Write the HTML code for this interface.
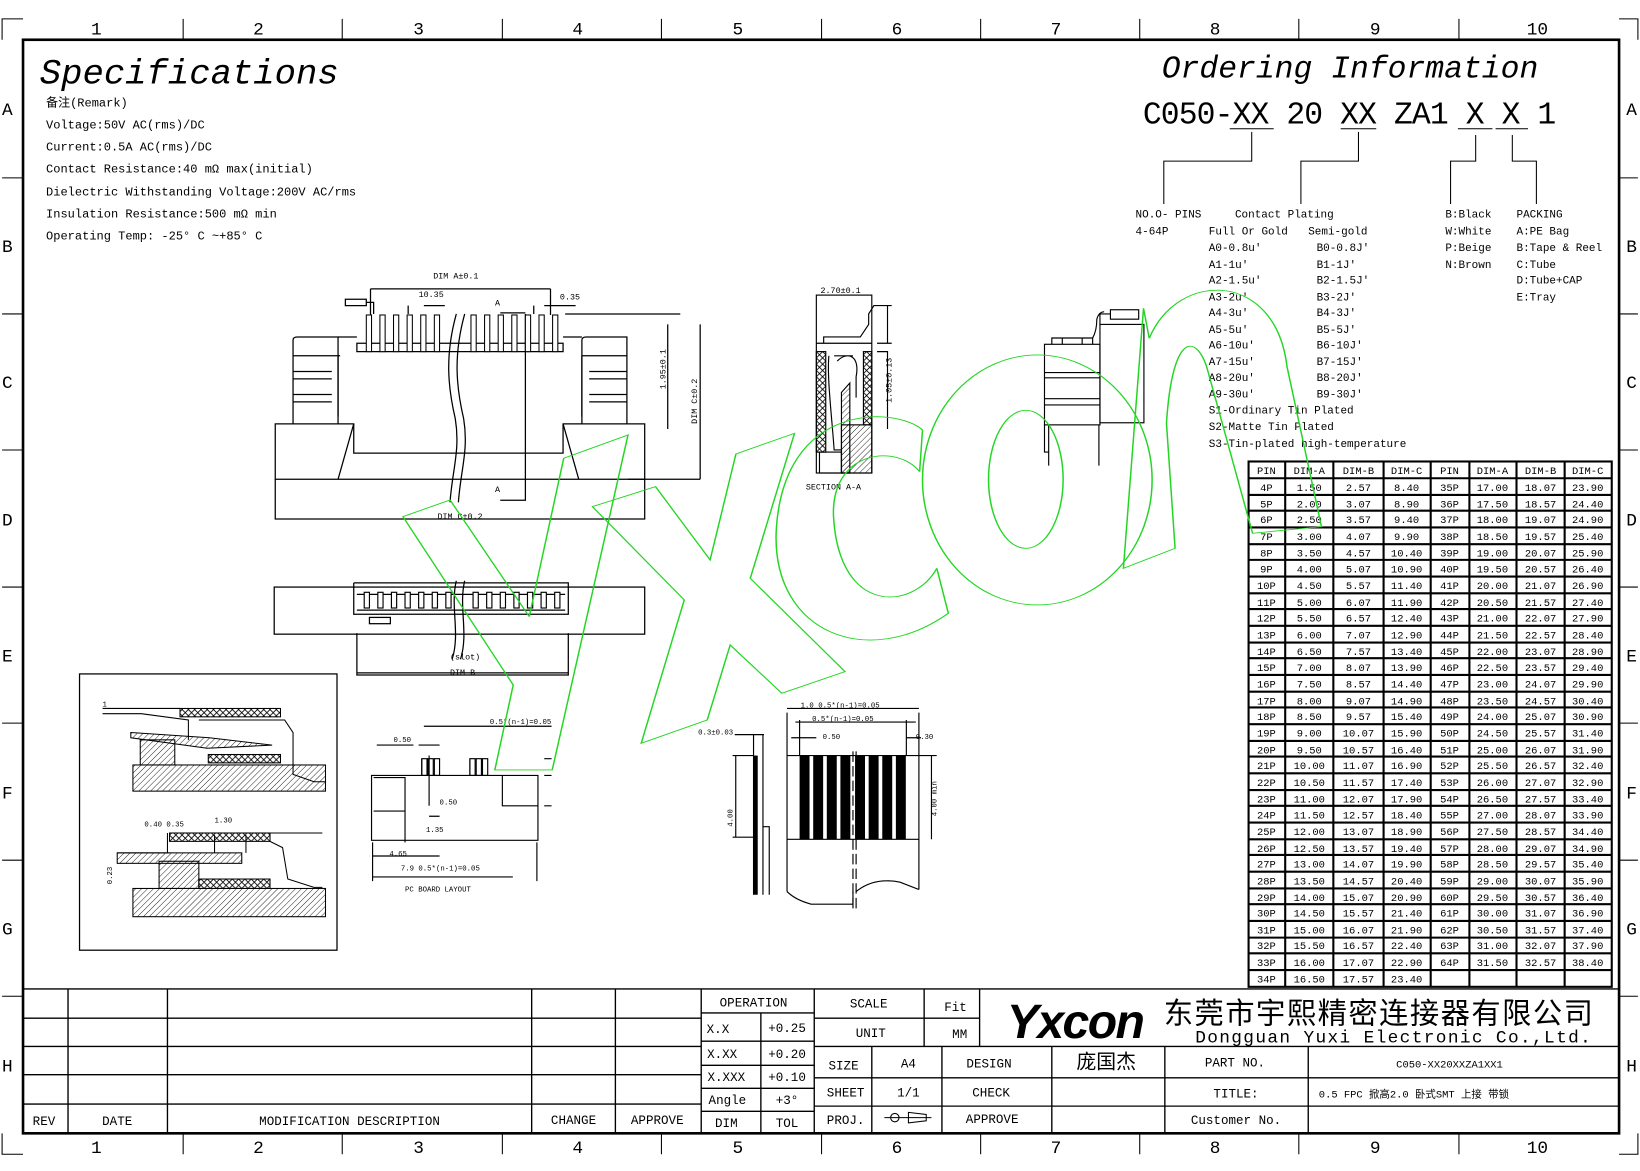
<!DOCTYPE html>
<html><head><meta charset="utf-8"><style>
html,body{margin:0;padding:0;background:#fff}
svg{display:block}
text{font-family:"Liberation Mono","Noto Sans CJK SC",monospace;fill:#000}
.s{font-family:"Liberation Sans","Noto Sans CJK SC",sans-serif}
.t text{font-size:10px;text-anchor:middle}
</style></head><body>
<svg width="1640" height="1171" viewBox="0 0 1567 1119" preserveAspectRatio="none" xmlns="http://www.w3.org/2000/svg">
<defs>
<pattern id="h" width="4" height="4" patternUnits="userSpaceOnUse" patternTransform="rotate(45)"><path d="M0,0V4" stroke="#000" stroke-width="0.8"/></pattern>
<pattern id="x" width="6" height="6" patternUnits="userSpaceOnUse"><path d="M0,0L6,6M6,0L0,6" stroke="#000" stroke-width="0.8"/></pattern>
</defs>
<rect width="1567" height="1119" fill="#fff"/>
<!-- frame -->
<g stroke="#000" fill="none">
<rect x="22" y="38" width="1525" height="1045" stroke-width="2.5"/>
<path d="M2,38V18H22M1565,38V18H1547M2,1083V1103H22M1565,1083V1103H1547" stroke-width="1"/>
<path d="M175,18V38M327,18V38M480,18V38M632,18V38M785,18V38M937,18V38M1089,18V38M1241,18V38M1394,18V38M175,1083V1103M327,1083V1103M480,1083V1103M632,1083V1103M785,1083V1103M937,1083V1103M1089,1083V1103M1241,1083V1103M1394,1083V1103"/>
<path d="M2,170H22M2,300H22M2,430H22M2,561H22M2,691H22M2,822H22M2,952H22M1547,170H1565M1547,300H1565M1547,430H1565M1547,561H1565M1547,691H1565M1547,822H1565M1547,952H1565"/>
</g>
<g class="s" font-size="17" text-anchor="middle">
<text x="92" y="33">1</text><text x="247" y="33">2</text><text x="400" y="33">3</text><text x="552" y="33">4</text><text x="705" y="33">5</text><text x="857" y="33">6</text><text x="1009" y="33">7</text><text x="1161" y="33">8</text><text x="1314" y="33">9</text><text x="1469" y="33">10</text>
<text x="92" y="1102">1</text><text x="247" y="1102">2</text><text x="400" y="1102">3</text><text x="552" y="1102">4</text><text x="705" y="1102">5</text><text x="857" y="1102">6</text><text x="1009" y="1102">7</text><text x="1161" y="1102">8</text><text x="1314" y="1102">9</text><text x="1469" y="1102">10</text>
<text x="7" y="110">A</text><text x="7" y="241">B</text><text x="7" y="371">C</text><text x="7" y="502">D</text><text x="7" y="632">E</text><text x="7" y="763">F</text><text x="7" y="893">G</text><text x="7" y="1024">H</text>
<text x="1559" y="110">A</text><text x="1559" y="241">B</text><text x="1559" y="371">C</text><text x="1559" y="502">D</text><text x="1559" y="632">E</text><text x="1559" y="763">F</text><text x="1559" y="893">G</text><text x="1559" y="1024">H</text>
</g>

<!-- Specifications -->
<text x="38" y="80" font-size="34" font-style="italic">Specifications</text>
<g font-size="11.5">
<text x="44" y="102">备注(Remark)</text>
<text x="44" y="123">Voltage:50V AC(rms)/DC</text>
<text x="44" y="144">Current:0.5A AC(rms)/DC</text>
<text x="44" y="165">Contact Resistance:40 mΩ max(initial)</text>
<text x="44" y="187">Dielectric Withstanding Voltage:200V AC/rms</text>
<text x="44" y="208">Insulation Resistance:500 mΩ min</text>
<text x="44" y="229">Operating Temp: -25° C ~+85° C</text>
</g>

<!-- Ordering information -->
<text x="1110" y="74" font-size="30" font-style="italic">Ordering Information</text>
<text x="1092" y="118" font-size="30" textLength="395">C050-XX 20 XX ZA1 X X 1</text>
<g stroke="#000" fill="none" stroke-width="1">
<path d="M1175,123H1217M1281,123H1315M1393,123H1426M1429,123H1460"/>
<path d="M1196,126V154H1112V195M1298,126V154H1243V195M1410,129V154H1386V195M1445,129V154H1468V195"/>
</g>
<g font-size="10.5">
<text x="1085" y="208">NO.O- PINS</text><text x="1085" y="224">4-64P</text>
<text x="1180" y="208">Contact Plating</text>
<text x="1155" y="224">Full Or Gold</text><text x="1250" y="224">Semi-gold</text>
<text x="1155" y="240">A0-0.8u'</text><text x="1258" y="240">B0-0.8J'</text>
<text x="1155" y="256">A1-1u'</text><text x="1258" y="256">B1-1J'</text>
<text x="1155" y="271">A2-1.5u'</text><text x="1258" y="271">B2-1.5J'</text>
<text x="1155" y="287">A3-2u'</text><text x="1258" y="287">B3-2J'</text>
<text x="1155" y="302">A4-3u'</text><text x="1258" y="302">B4-3J'</text>
<text x="1155" y="318">A5-5u'</text><text x="1258" y="318">B5-5J'</text>
<text x="1155" y="333">A6-10u'</text><text x="1258" y="333">B6-10J'</text>
<text x="1155" y="349">A7-15u'</text><text x="1258" y="349">B7-15J'</text>
<text x="1155" y="364">A8-20u'</text><text x="1258" y="364">B8-20J'</text>
<text x="1155" y="380">A9-30u'</text><text x="1258" y="380">B9-30J'</text>
<text x="1155" y="395">S1-Ordinary Tin Plated</text>
<text x="1155" y="411">S2-Matte Tin Plated</text>
<text x="1155" y="427">S3-Tin-plated high-temperature</text>
<text x="1381" y="208">B:Black</text><text x="1381" y="224">W:White</text><text x="1381" y="240">P:Beige</text><text x="1381" y="256">N:Brown</text>
<text x="1449" y="208">PACKING</text><text x="1449" y="224">A:PE Bag</text><text x="1449" y="240">B:Tape &amp; Reel</text><text x="1449" y="256">C:Tube</text><text x="1449" y="271">D:Tube+CAP</text><text x="1449" y="287">E:Tray</text>
</g>

<!-- main front view -->
<g stroke="#000" fill="none" stroke-width="1.2">
<path d="M263,405H338V433H538V405H616V458H263Z"/>
<path d="M263,458V496H616V458"/>
<path d="M280,405V325Q280,322 284,322H323V405M556,405V325Q556,322 560,322H599V405"/>
<path d="M280,340H325M280,355H317M280,362H317M280,377H317M280,384H317M556,340H599M563,355H599M563,362H599M563,377H599M563,384H599"/>
<path d="M341,328H538V336H341Z"/>
<path d="M323,340V398M556,340V398"/>
<path d="M338,405L323,458M538,405L553,458"/>
<path d="M323,322H341M538,322H556"/>
<path d="M436,300C425,340 428,370 435,400C440,430 432,450 430,480M444,300C433,340 436,370 443,400C448,430 440,450 438,480"/>
<path d="M354,276H526M354,276V301M526,276V301M390,292V300M405,292H425M510,292V300M520,292H550M540,300H650M638,310V410M669,310V458M600,458H669"/>
<path d="M502,300V478H488M478,299H502M478,478H502"/>
<path d="M330,286H350V292H330ZM350,289H357V300"/>
</g>
<g fill="#fff" stroke="#000" stroke-width="1">
<rect x="350" y="301" width="5" height="35"/><rect x="363" y="301" width="5" height="35"/><rect x="376" y="301" width="5" height="35"/><rect x="389" y="301" width="5" height="35"/><rect x="402" y="301" width="5" height="35"/><rect x="415" y="301" width="5" height="35"/><rect x="450" y="301" width="5" height="35"/><rect x="463" y="301" width="5" height="35"/><rect x="476" y="301" width="5" height="35"/><rect x="489" y="301" width="5" height="35"/><rect x="502" y="301" width="5" height="35"/><rect x="515" y="301" width="5" height="35"/><rect x="528" y="301" width="5" height="35"/>
</g>
<g font-size="8"><text x="414" y="266">DIM A±0.1</text><text x="400" y="284">10.35</text><text x="535" y="286">0.35</text><text x="473" y="292">A</text><text x="473" y="470">A</text><text x="418" y="496">DIM C±0.2</text>
<text x="636" y="372" transform="rotate(-90 636 372)">1.95±0.1</text><text x="666" y="405" transform="rotate(-90 666 405)">DIM C±0.2</text></g>

<!-- lower view -->
<g stroke="#000" fill="none" stroke-width="1.2">
<rect x="262" y="561" width="354" height="45"/>
<path d="M338,557V587H543V557H338M341,568H540M341,583H540"/>
<path d="M341,605V645H543V605M341,643H543"/>
<path d="M436,555C430,580 440,605 432,630M444,555C438,580 448,605 440,630"/>
<rect x="353" y="590" width="20" height="6"/>
</g>
<g fill="#fff" stroke="#000" stroke-width="1.1">
<rect x="348" y="566" width="5" height="15"/><rect x="361" y="566" width="5" height="15"/><rect x="374" y="566" width="5" height="15"/><rect x="387" y="566" width="5" height="15"/><rect x="400" y="566" width="5" height="15"/><rect x="413" y="566" width="5" height="15"/><rect x="426" y="566" width="5" height="15"/><rect x="452" y="566" width="5" height="15"/><rect x="465" y="566" width="5" height="15"/><rect x="478" y="566" width="5" height="15"/><rect x="491" y="566" width="5" height="15"/><rect x="504" y="566" width="5" height="15"/><rect x="517" y="566" width="5" height="15"/><rect x="530" y="566" width="5" height="15"/>
</g>
<g font-size="8"><text x="430" y="630">(slot)</text><text x="430" y="645">DIM B</text></g>

<!-- section A-A -->
<g stroke="#000" fill="none" stroke-width="1.1">
<rect x="780" y="282" width="53" height="170"/>
<path d="M780,328H833M787,328V322H822L830,310V300L835,292H852M838,328H852M848,292V328M838,336H848V410"/>
<rect x="780" y="336" width="9" height="96" fill="url(#x)"/>
<rect x="825" y="336" width="8" height="70" fill="url(#x)"/>
<path d="M804,452V375L812,366V452Z" fill="url(#h)"/>
<rect x="804" y="406" width="29" height="46" fill="url(#h)"/>
<path d="M792,340C790,360 795,400 797,430H804M800,345C810,335 822,340 818,360V380M797,340H815"/>
<rect x="783" y="432" width="21" height="20"/>
</g>
<g font-size="8"><text x="784" y="280">2.70±0.1</text><text x="770" y="468">SECTION A-A</text><text x="852" y="385" transform="rotate(-90 852 385)">1.05±0.13</text></g>

<!-- side view -->
<g stroke="#000" fill="none" stroke-width="1.1">
<rect x="998" y="329" width="53" height="77"/>
<path d="M1002,406V445M1050,406V445M998,406V432H1002"/>
<path d="M1005,329V323H1015V329M1034,329V323H1044V329M1005,323H1044"/>
<path d="M998,356H1051M998,361H1051M998,381H1051M998,387H1051"/>
<rect x="1051" y="310" width="42" height="94"/>
<rect x="1061" y="296" width="27" height="9"/>
<path d="M1051,310V300H1061M1044,323Q1048,316 1048,305Q1050,298 1055,298"/>
</g>

<!-- detail box -->
<rect x="76" y="644" width="246" height="264" fill="none" stroke="#000" stroke-width="1.2"/>
<g stroke="#000" stroke-width="1">
<path d="M98,677H172M98,682H135L180,688V707M190,688H272L280,700V740L300,747H311" fill="none"/>
<rect x="172" y="677" width="96" height="8" fill="url(#x)"/>
<rect x="199" y="721" width="69" height="8" fill="url(#x)"/>
<rect x="134" y="707" width="33" height="24" fill="url(#h)"/>
<path d="M125,700L200,705L260,712L198,715L125,705Z" fill="url(#h)"/>
<rect x="127" y="731" width="184" height="25" fill="url(#h)"/>
<path d="M112,815H162M160,796V815M100,810" fill="none"/>
<rect x="162" y="796" width="96" height="8" fill="url(#x)"/>
<rect x="112" y="815" width="119" height="10" fill="url(#h)"/>
<rect x="152" y="823" width="38" height="26" fill="url(#h)"/>
<rect x="190" y="840" width="68" height="9" fill="url(#x)"/>
<rect x="127" y="849" width="184" height="27" fill="url(#h)"/>
<path d="M258,796H308M258,804L270,810L275,840L300,848H308M205,815V798M235,815V798" fill="none"/>
</g>
<g font-size="7"><text x="98" y="675">1</text><text x="138" y="790">0.40 0.35</text><text x="205" y="786">1.30</text><text x="107" y="845" transform="rotate(-90 107 845)">0.23</text></g>

<!-- PCB layout -->
<g stroke="#000" fill="none" stroke-width="1.1">
<path d="M355,741H514V803H355Z"/>
<path d="M357,743H387V805M357,775H387M480,741V770H514M403,725V741M449,725V741"/>
<rect x="403" y="725" width="5" height="16"/><rect x="409" y="725" width="5" height="16"/><rect x="415" y="725" width="5" height="16"/>
<rect x="449" y="725" width="5" height="16"/><rect x="455" y="725" width="5" height="16"/><rect x="461" y="725" width="5" height="16"/>
<path d="M405,694H527M400,712H420M360,712H395M520,725H527M520,741H527M520,770H527M410,722V770M410,780H420"/>
<path d="M356,818H420M356,838H490M356,805V842M513,805V842"/>
</g>
<g font-size="7"><text x="468" y="692">0.5*(n-1)=0.05</text><text x="376" y="709">0.50</text><text x="420" y="769">0.50</text><text x="407" y="795">1.35</text><text x="372" y="818">4.65</text><text x="383" y="832">7.9 0.5*(n-1)=0.05</text><text x="387" y="852">PC BOARD LAYOUT</text></g>

<!-- FPC -->
<g stroke="#000" fill="none" stroke-width="1.1">
<path d="M752,681V852M878,681V850M752,677H878M760,690H875"/>
<path d="M752,722H895M752,802H878"/>
<path d="M752,852Q760,860 775,864L815,864V852M818,852Q835,838 860,843L878,850"/>
<path d="M764,688V722M866,688V722M866,705H880M756,705H780"/>
<path d="M815,718V870M818,718V870" stroke-dasharray="10,4"/>
<path d="M720,702V855M729,702V855M702,702H730M700,722H720M700,800H720M703,722V800M729,790H735V855"/>
<path d="M890,722V802"/>
</g>
<rect x="720" y="722" width="4" height="133" fill="#000"/>
<g fill="#000"><rect x="764" y="722" width="9.5" height="80"/><rect x="777" y="722" width="9.5" height="80"/><rect x="790" y="722" width="9.5" height="80"/><rect x="803" y="722" width="9.5" height="80"/><rect x="817" y="722" width="9.5" height="80"/><rect x="830" y="722" width="9.5" height="80"/><rect x="843" y="722" width="9.5" height="80"/><rect x="856" y="722" width="9.5" height="80"/></g>
<g font-size="7"><text x="765" y="676">1.0 0.5*(n-1)=0.05</text><text x="776" y="689">0.5*(n-1)=0.05</text><text x="667" y="702">0.3±0.03</text><text x="786" y="706">0.50</text><text x="875" y="706">0.30</text><text x="700" y="790" transform="rotate(-90 700 790)">4.00</text><text x="895" y="780" transform="rotate(-90 895 780)">4.00 min</text></g>

<!-- table -->
<g>
<rect x="1193" y="441" width="347" height="502" fill="#fff" stroke="#000" stroke-width="2"/>
<g stroke="#000" stroke-width="2">
<path d="M1193,457H1540M1193,473H1540M1193,488H1540M1193,504H1540M1193,520H1540M1193,535H1540M1193,551H1540M1193,567H1540M1193,582H1540M1193,598H1540M1193,614H1540M1193,629H1540M1193,645H1540M1193,661H1540M1193,676H1540M1193,692H1540M1193,708H1540M1193,723H1540M1193,739H1540M1193,755H1540M1193,770H1540M1193,786H1540M1193,802H1540M1193,817H1540M1193,833H1540M1193,849H1540M1193,864H1540M1193,880H1540M1193,896H1540M1193,911H1540M1193,927H1540"/>
<path d="M1228,441V943M1274,441V943M1322,441V943M1367,441V943M1404,441V943M1449,441V943M1495,441V943"/>
</g>
<g class="t">
<text x="1210" y="453">PIN</text><text x="1251" y="453">DIM-A</text><text x="1298" y="453">DIM-B</text><text x="1344" y="453">DIM-C</text><text x="1385" y="453">PIN</text><text x="1426" y="453">DIM-A</text><text x="1472" y="453">DIM-B</text><text x="1517" y="453">DIM-C</text>
<text x="1210" y="469">4P</text><text x="1251" y="469">1.50</text><text x="1298" y="469">2.57</text><text x="1344" y="469">8.40</text><text x="1385" y="469">35P</text><text x="1426" y="469">17.00</text><text x="1472" y="469">18.07</text><text x="1517" y="469">23.90</text>
<text x="1210" y="485">5P</text><text x="1251" y="485">2.00</text><text x="1298" y="485">3.07</text><text x="1344" y="485">8.90</text><text x="1385" y="485">36P</text><text x="1426" y="485">17.50</text><text x="1472" y="485">18.57</text><text x="1517" y="485">24.40</text>
<text x="1210" y="500">6P</text><text x="1251" y="500">2.50</text><text x="1298" y="500">3.57</text><text x="1344" y="500">9.40</text><text x="1385" y="500">37P</text><text x="1426" y="500">18.00</text><text x="1472" y="500">19.07</text><text x="1517" y="500">24.90</text>
<text x="1210" y="516">7P</text><text x="1251" y="516">3.00</text><text x="1298" y="516">4.07</text><text x="1344" y="516">9.90</text><text x="1385" y="516">38P</text><text x="1426" y="516">18.50</text><text x="1472" y="516">19.57</text><text x="1517" y="516">25.40</text>
<text x="1210" y="532">8P</text><text x="1251" y="532">3.50</text><text x="1298" y="532">4.57</text><text x="1344" y="532">10.40</text><text x="1385" y="532">39P</text><text x="1426" y="532">19.00</text><text x="1472" y="532">20.07</text><text x="1517" y="532">25.90</text>
<text x="1210" y="547">9P</text><text x="1251" y="547">4.00</text><text x="1298" y="547">5.07</text><text x="1344" y="547">10.90</text><text x="1385" y="547">40P</text><text x="1426" y="547">19.50</text><text x="1472" y="547">20.57</text><text x="1517" y="547">26.40</text>
<text x="1210" y="563">10P</text><text x="1251" y="563">4.50</text><text x="1298" y="563">5.57</text><text x="1344" y="563">11.40</text><text x="1385" y="563">41P</text><text x="1426" y="563">20.00</text><text x="1472" y="563">21.07</text><text x="1517" y="563">26.90</text>
<text x="1210" y="579">11P</text><text x="1251" y="579">5.00</text><text x="1298" y="579">6.07</text><text x="1344" y="579">11.90</text><text x="1385" y="579">42P</text><text x="1426" y="579">20.50</text><text x="1472" y="579">21.57</text><text x="1517" y="579">27.40</text>
<text x="1210" y="594">12P</text><text x="1251" y="594">5.50</text><text x="1298" y="594">6.57</text><text x="1344" y="594">12.40</text><text x="1385" y="594">43P</text><text x="1426" y="594">21.00</text><text x="1472" y="594">22.07</text><text x="1517" y="594">27.90</text>
<text x="1210" y="610">13P</text><text x="1251" y="610">6.00</text><text x="1298" y="610">7.07</text><text x="1344" y="610">12.90</text><text x="1385" y="610">44P</text><text x="1426" y="610">21.50</text><text x="1472" y="610">22.57</text><text x="1517" y="610">28.40</text>
<text x="1210" y="626">14P</text><text x="1251" y="626">6.50</text><text x="1298" y="626">7.57</text><text x="1344" y="626">13.40</text><text x="1385" y="626">45P</text><text x="1426" y="626">22.00</text><text x="1472" y="626">23.07</text><text x="1517" y="626">28.90</text>
<text x="1210" y="641">15P</text><text x="1251" y="641">7.00</text><text x="1298" y="641">8.07</text><text x="1344" y="641">13.90</text><text x="1385" y="641">46P</text><text x="1426" y="641">22.50</text><text x="1472" y="641">23.57</text><text x="1517" y="641">29.40</text>
<text x="1210" y="657">16P</text><text x="1251" y="657">7.50</text><text x="1298" y="657">8.57</text><text x="1344" y="657">14.40</text><text x="1385" y="657">47P</text><text x="1426" y="657">23.00</text><text x="1472" y="657">24.07</text><text x="1517" y="657">29.90</text>
<text x="1210" y="673">17P</text><text x="1251" y="673">8.00</text><text x="1298" y="673">9.07</text><text x="1344" y="673">14.90</text><text x="1385" y="673">48P</text><text x="1426" y="673">23.50</text><text x="1472" y="673">24.57</text><text x="1517" y="673">30.40</text>
<text x="1210" y="688">18P</text><text x="1251" y="688">8.50</text><text x="1298" y="688">9.57</text><text x="1344" y="688">15.40</text><text x="1385" y="688">49P</text><text x="1426" y="688">24.00</text><text x="1472" y="688">25.07</text><text x="1517" y="688">30.90</text>
<text x="1210" y="704">19P</text><text x="1251" y="704">9.00</text><text x="1298" y="704">10.07</text><text x="1344" y="704">15.90</text><text x="1385" y="704">50P</text><text x="1426" y="704">24.50</text><text x="1472" y="704">25.57</text><text x="1517" y="704">31.40</text>
<text x="1210" y="720">20P</text><text x="1251" y="720">9.50</text><text x="1298" y="720">10.57</text><text x="1344" y="720">16.40</text><text x="1385" y="720">51P</text><text x="1426" y="720">25.00</text><text x="1472" y="720">26.07</text><text x="1517" y="720">31.90</text>
<text x="1210" y="735">21P</text><text x="1251" y="735">10.00</text><text x="1298" y="735">11.07</text><text x="1344" y="735">16.90</text><text x="1385" y="735">52P</text><text x="1426" y="735">25.50</text><text x="1472" y="735">26.57</text><text x="1517" y="735">32.40</text>
<text x="1210" y="751">22P</text><text x="1251" y="751">10.50</text><text x="1298" y="751">11.57</text><text x="1344" y="751">17.40</text><text x="1385" y="751">53P</text><text x="1426" y="751">26.00</text><text x="1472" y="751">27.07</text><text x="1517" y="751">32.90</text>
<text x="1210" y="767">23P</text><text x="1251" y="767">11.00</text><text x="1298" y="767">12.07</text><text x="1344" y="767">17.90</text><text x="1385" y="767">54P</text><text x="1426" y="767">26.50</text><text x="1472" y="767">27.57</text><text x="1517" y="767">33.40</text>
<text x="1210" y="782">24P</text><text x="1251" y="782">11.50</text><text x="1298" y="782">12.57</text><text x="1344" y="782">18.40</text><text x="1385" y="782">55P</text><text x="1426" y="782">27.00</text><text x="1472" y="782">28.07</text><text x="1517" y="782">33.90</text>
<text x="1210" y="798">25P</text><text x="1251" y="798">12.00</text><text x="1298" y="798">13.07</text><text x="1344" y="798">18.90</text><text x="1385" y="798">56P</text><text x="1426" y="798">27.50</text><text x="1472" y="798">28.57</text><text x="1517" y="798">34.40</text>
<text x="1210" y="814">26P</text><text x="1251" y="814">12.50</text><text x="1298" y="814">13.57</text><text x="1344" y="814">19.40</text><text x="1385" y="814">57P</text><text x="1426" y="814">28.00</text><text x="1472" y="814">29.07</text><text x="1517" y="814">34.90</text>
<text x="1210" y="829">27P</text><text x="1251" y="829">13.00</text><text x="1298" y="829">14.07</text><text x="1344" y="829">19.90</text><text x="1385" y="829">58P</text><text x="1426" y="829">28.50</text><text x="1472" y="829">29.57</text><text x="1517" y="829">35.40</text>
<text x="1210" y="845">28P</text><text x="1251" y="845">13.50</text><text x="1298" y="845">14.57</text><text x="1344" y="845">20.40</text><text x="1385" y="845">59P</text><text x="1426" y="845">29.00</text><text x="1472" y="845">30.07</text><text x="1517" y="845">35.90</text>
<text x="1210" y="861">29P</text><text x="1251" y="861">14.00</text><text x="1298" y="861">15.07</text><text x="1344" y="861">20.90</text><text x="1385" y="861">60P</text><text x="1426" y="861">29.50</text><text x="1472" y="861">30.57</text><text x="1517" y="861">36.40</text>
<text x="1210" y="876">30P</text><text x="1251" y="876">14.50</text><text x="1298" y="876">15.57</text><text x="1344" y="876">21.40</text><text x="1385" y="876">61P</text><text x="1426" y="876">30.00</text><text x="1472" y="876">31.07</text><text x="1517" y="876">36.90</text>
<text x="1210" y="892">31P</text><text x="1251" y="892">15.00</text><text x="1298" y="892">16.07</text><text x="1344" y="892">21.90</text><text x="1385" y="892">62P</text><text x="1426" y="892">30.50</text><text x="1472" y="892">31.57</text><text x="1517" y="892">37.40</text>
<text x="1210" y="907">32P</text><text x="1251" y="907">15.50</text><text x="1298" y="907">16.57</text><text x="1344" y="907">22.40</text><text x="1385" y="907">63P</text><text x="1426" y="907">31.00</text><text x="1472" y="907">32.07</text><text x="1517" y="907">37.90</text>
<text x="1210" y="923">33P</text><text x="1251" y="923">16.00</text><text x="1298" y="923">17.07</text><text x="1344" y="923">22.90</text><text x="1385" y="923">64P</text><text x="1426" y="923">31.50</text><text x="1472" y="923">32.57</text><text x="1517" y="923">38.40</text>
<text x="1210" y="939">34P</text><text x="1251" y="939">16.50</text><text x="1298" y="939">17.57</text><text x="1344" y="939">23.40</text>
</g>
</g>

<!-- title block -->
<g stroke="#000" fill="none" stroke-width="1.3">
<path d="M22,945H1547"/>
<path d="M22,973H670M22,1000H670M22,1027H670M22,1055H670"/>
<path d="M65,945V1083M160,945V1083M508,945V1083M588,945V1083M670,945V1083"/>
<path d="M670,968H778M670,995H778M670,1018H778M670,1040H778M670,1062H778M727,968V1083M778,945V1083"/>
<path d="M778,973H936M778,1000H1547M883,945V1000M936,945V1000"/>
<path d="M778,1030H1547M778,1057H1547M833,1000V1083M900,1000V1083M1005,1000V1083M1113,1000V1083M1250,1000V1083"/>
</g>
<g class="s" font-size="12" text-anchor="middle">
<text x="42" y="1075">REV</text><text x="112" y="1075">DATE</text><text x="334" y="1075">MODIFICATION DESCRIPTION</text><text x="548" y="1074">CHANGE</text><text x="628" y="1074">APPROVE</text>
<text x="720" y="962">OPERATION</text><text x="686" y="987">X.X</text><text x="752" y="986">+0.25</text><text x="690" y="1011">X.XX</text><text x="752" y="1011">+0.20</text><text x="694" y="1033">X.XXX</text><text x="752" y="1033">+0.10</text><text x="695" y="1055">Angle</text><text x="752" y="1055">+3°</text><text x="694" y="1077">DIM</text><text x="752" y="1077">TOL</text>
<text x="830" y="963">SCALE</text><text x="913" y="966">Fit</text><text x="832" y="991">UNIT</text><text x="917" y="992">MM</text>
<text x="806" y="1022">SIZE</text><text x="868" y="1020">A4</text><text x="945" y="1020">DESIGN</text><text x="1057" y="1021" font-size="19">庞国杰</text><text x="1180" y="1019">PART NO.</text><text x="1385" y="1020" font-size="10">C050-XX20XXZA1XX1</text>
<text x="808" y="1048">SHEET</text><text x="868" y="1048">1/1</text><text x="947" y="1048">CHECK</text><text x="1181" y="1049">TITLE:</text><text x="1351" y="1049" font-size="10">0.5 FPC 掀高2.0 卧式SMT 上接 带锁</text>
<text x="808" y="1074">PROJ.</text><text x="948" y="1073">APPROVE</text><text x="1181" y="1074">Customer No.</text>
</g>
<g stroke="#000" fill="none"><circle cx="855" cy="1068" r="4"/><path d="M845,1068H890M868,1063L885,1065V1071L868,1073Z"/></g>
<text x="962" y="992" font-size="46" font-weight="bold" font-style="italic" class="s" letter-spacing="-4" textLength="128">Yxcon</text>
<text x="1112" y="978" font-size="28" class="s" textLength="410">东莞市宇熙精密连接器有限公司</text>
<text x="1142" y="996" font-size="17" textLength="378">Dongguan Yuxi Electronic Co.,Ltd.</text>

<!-- watermark (outline) -->
<g transform="translate(363.1,238.9) scale(0.5485,0.3185)" style="fill:none" stroke="#22d622" stroke-width="2.6" vector-effect="non-scaling-stroke">
<path d="M40,800L122,750L260,1100L320,625L432,555L300,1560L200,1560L232,1305Z"/>
<path d="M370,770L480,710L575,930L620,612L722,550L645,985L810,1265L700,1330L610,1185L570,1410L455,1480L530,1050Z"/>
<path d="M945,540C900,470 700,450 690,850C685,1150 850,1260 990,1090L970,955C930,1080 800,1100 790,800C785,600 900,580 940,665Z"/>
<ellipse cx="1145" cy="690" rx="200" ry="375"/>
<ellipse cx="1125" cy="688" rx="65" ry="207"/>
<path d="M1295,955L1330,175L1340,265C1390,60 1560,60 1580,350L1640,830L1520,850L1440,350C1420,250 1380,250 1370,520L1385,895Z"/>
</g>
</svg>
</body></html>
